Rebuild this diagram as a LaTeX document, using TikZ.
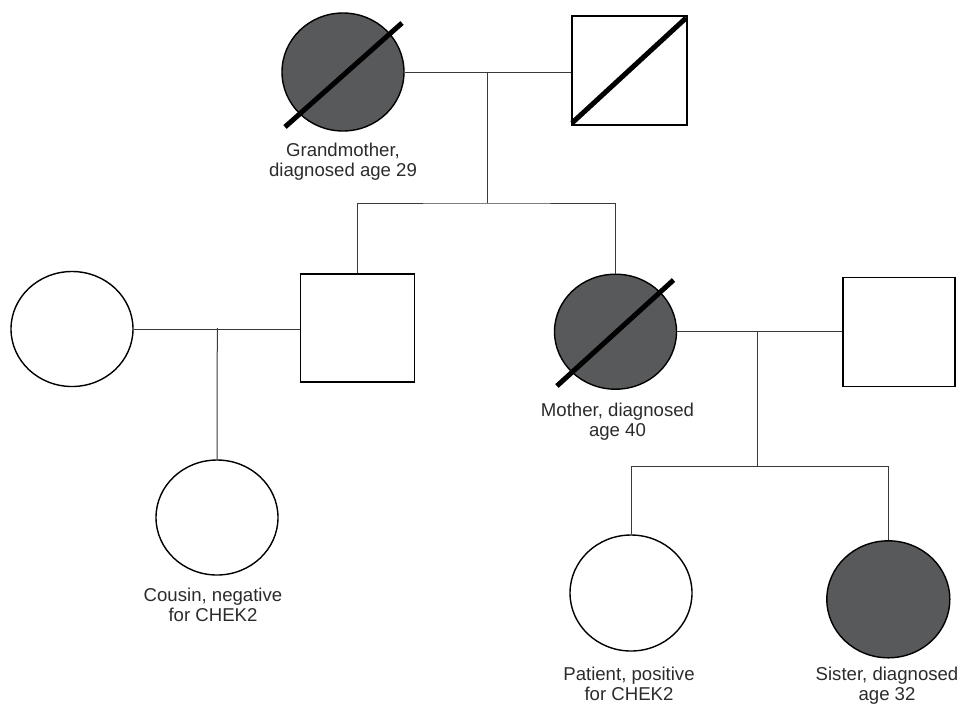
\documentclass[tikz,border=0pt]{standalone}
\usepackage{fontspec}
\setmainfont{Liberation Sans}
\usetikzlibrary{shapes.geometric,calc}
\definecolor{affected}{HTML}{58595B}
\definecolor{txt}{HTML}{2B2B2B}
\definecolor{conn}{HTML}{3A3A3A}
\begin{document}
\begin{tikzpicture}[x=1pt,y=-1pt,
  female/.style={ellipse,draw=black,line width=1.4pt,inner sep=0pt,minimum width=122pt,minimum height=116pt,fill=white},
  male/.style={rectangle,draw=black,line width=1.4pt,inner sep=0pt,fill=white},
  aff/.style={fill=affected},
  deceased/.style={line width=5pt,black},
  link/.style={draw=conn,line width=1pt},
  lbl/.style={anchor=north,align=center,inner sep=0pt,text=txt,font=\fontsize{18.6}{20}\selectfont}]
\useasboundingbox (0,0) rectangle (960,705);
% generation I
\node[female,aff,minimum height=118pt] (gm) at (343,72) {};
\node[male,minimum width=115pt,minimum height=109pt] (gf) at (629.5,70.5) {};
% generation II
\node[female,minimum height=115pt] (aunt) at (72,329) {};
\node[male,minimum width=114pt,minimum height=108pt] (uncle) at (357.5,328) {};
\node[female,aff,minimum height=115pt] (mother) at (615.5,331.7) {};
\node[male,minimum width=112pt,minimum height=109pt] (father) at (899,331.7) {};
% generation III
\node[female,minimum height=115pt] (cousin) at (217,517.5) {};
\node[female] (patient) at (631,593) {};
\node[female,aff,minimum width=123pt,minimum height=117pt] (sister) at (888.3,599.3) {};
% deceased slashes
\draw[deceased] ($(gm.center)+(-58,55)$) -- ($(gm.center)+(59,-49)$);
\draw[deceased] ($(gf.center)+(-57.5,52.5)$) -- ($(gf.center)+(56.5,-52.5)$);
\draw[deceased] ($(mother.center)+(-58.6,54.3)$) -- ($(mother.center)+(58,-51.7)$);
% connectors generation I -> II
\coordinate (m1) at (487,72);
\coordinate (s1) at (487,203);
\draw[link] (gm.east) -- (gm.east -| gf.west);
\draw[link] (m1) -- (s1);
\draw[link] (uncle.north) |- (s1) -| (mother.north);
% aunt x uncle
\coordinate (m2) at (217.3,328);
\draw[link] (aunt.east) -- (aunt.east -| uncle.west);
\draw[link] (m2) -- (cousin.north);
% mother x father
\coordinate (m3) at (757.7,331.7);
\coordinate (s3) at (757.7,466);
\draw[link] (mother.east) -- (father.west);
\draw[link] (m3) -- (s3);
\draw[link] (patient.north) |- (s3) -| (sister.north);
% labels
\node[lbl] (lgm) at (343,143.2) {Grandmother,\\diagnosed age 29};
\node[lbl] (lcousin) at (213,588.2) {Cousin, negative\\for CHEK2};
\node[lbl] (lmother) at (617.5,402.5) {Mother, diagnosed\\age 40};
\node[lbl] (lpatient) at (629,667.2) {Patient, positive\\for CHEK2};
\node[lbl] (lsister) at (887,667.2) {Sister, diagnosed\\age 32};
\end{tikzpicture}
\end{document}
